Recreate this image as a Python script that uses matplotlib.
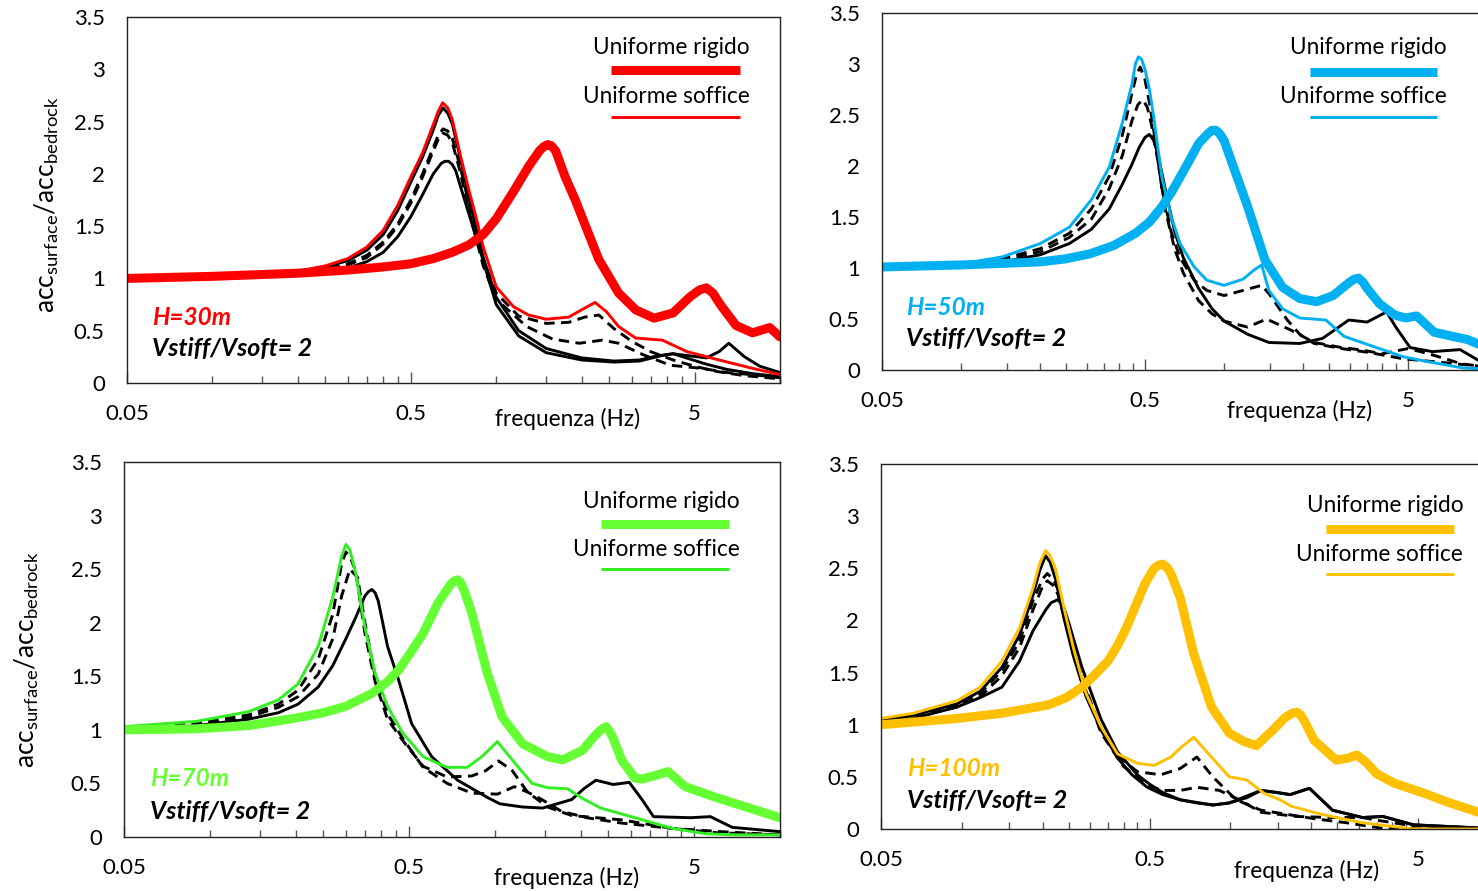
import matplotlib
matplotlib.use("Agg")
import matplotlib.pyplot as plt
from matplotlib.ticker import FixedLocator, NullFormatter

plt.rcParams['font.family'] = ['Lato', 'DejaVu Sans']
plt.rcParams['mathtext.fontset'] = 'custom'
plt.rcParams['mathtext.rm'] = 'Lato'

# ---------------- data ----------------
x_major = [0.05, 0.5, 5]
x_major_labels = ["0.05", "0.5", "5"]
y_ticks = [0, 0.5, 1, 1.5, 2, 2.5, 3, 3.5]
y_tick_labels = ["0", "0.5", "1", "1.5", "2", "2.5", "3", "3.5"]

# Panel 1 : H=30m
p1_rig_f = [0.05,0.1,0.2,0.3,0.4,0.5,0.6,0.7,0.8,0.9,1.0,1.15,1.3,1.42,1.47,1.52,1.56,1.62,1.75,1.9,2.1,2.3,2.7,3.1,3.6,4.2,4.8,5.2,5.5,5.8,6.2,7.0,8.0,9.2,10]
p1_rig_v = [1.0,1.02,1.05,1.08,1.11,1.14,1.19,1.25,1.32,1.42,1.57,1.83,2.07,2.22,2.26,2.28,2.27,2.22,1.97,1.75,1.45,1.18,0.86,0.70,0.62,0.67,0.82,0.89,0.91,0.86,0.74,0.55,0.48,0.53,0.44]
p1_soft_f = [0.05,0.1,0.15,0.2,0.25,0.3,0.35,0.4,0.45,0.5,0.55,0.6,0.625,0.648,0.675,0.7,0.75,0.8,0.85,0.9,1.0,1.15,1.3,1.5,1.8,2.0,2.23,2.45,2.7,3.1,3.85,4.7,6.1,8.0,10]
p1_soft_v = [1.0,1.02,1.04,1.07,1.12,1.19,1.3,1.46,1.70,1.97,2.2,2.47,2.60,2.68,2.63,2.52,2.16,1.85,1.58,1.30,0.92,0.73,0.65,0.61,0.63,0.70,0.77,0.68,0.54,0.43,0.41,0.30,0.22,0.14,0.08]
p1_k1_f = [0.05,0.1,0.15,0.2,0.25,0.3,0.35,0.4,0.45,0.5,0.55,0.6,0.625,0.65,0.675,0.7,0.75,0.8,0.9,1.0,1.2,1.5,2.0,2.6,3.2,3.7,4.2,4.8,5.5,6.1,6.6,7.5,8.5,10]
p1_k1_v = [1.0,1.02,1.04,1.06,1.11,1.17,1.27,1.42,1.65,1.92,2.16,2.42,2.56,2.63,2.58,2.48,2.13,1.78,1.2,0.82,0.50,0.33,0.24,0.21,0.22,0.26,0.28,0.26,0.24,0.30,0.38,0.25,0.16,0.10]
p1_k2_f = [0.05,0.1,0.15,0.2,0.25,0.3,0.35,0.4,0.45,0.5,0.55,0.6,0.625,0.65,0.675,0.7,0.75,0.8,0.9,1.0,1.2,1.5,1.8,2.05,2.3,2.6,3.0,3.5,4.2,5,6,7.5,10]
p1_k2_v = [1.0,1.02,1.03,1.05,1.09,1.14,1.22,1.35,1.52,1.75,2.0,2.25,2.37,2.43,2.41,2.34,2.05,1.72,1.18,0.86,0.64,0.57,0.58,0.63,0.65,0.52,0.40,0.30,0.22,0.16,0.11,0.07,0.04]
p1_k3_f = [0.05,0.1,0.15,0.2,0.25,0.3,0.35,0.4,0.45,0.5,0.55,0.6,0.625,0.65,0.675,0.7,0.75,0.8,0.9,1.0,1.28,1.58,1.96,2.37,2.7,3.3,4.1,5.3,6.5,8,10]
p1_k3_v = [1.0,1.02,1.03,1.05,1.08,1.13,1.2,1.33,1.5,1.72,1.97,2.22,2.33,2.39,2.37,2.30,2.0,1.66,1.12,0.80,0.54,0.42,0.38,0.41,0.38,0.27,0.17,0.14,0.10,0.08,0.05]
p1_k4_f = [0.05,0.1,0.15,0.2,0.25,0.3,0.35,0.4,0.45,0.5,0.55,0.6,0.64,0.66,0.68,0.7,0.72,0.78,0.87,1.0,1.2,1.5,2.0,2.6,3.2,3.8,4.2,4.8,5.5,6.5,8,10]
p1_k4_v = [1.0,1.02,1.03,1.04,1.07,1.10,1.16,1.25,1.40,1.59,1.80,2.0,2.1,2.12,2.12,2.09,2.03,1.72,1.30,0.75,0.45,0.29,0.22,0.20,0.21,0.26,0.28,0.23,0.18,0.13,0.09,0.06]

# Panel 2 : H=50m
p2_rig_f = [0.05,0.1,0.2,0.25,0.31,0.38,0.46,0.52,0.58,0.63,0.68,0.74,0.8,0.87,0.9,0.93,0.96,1.0,1.1,1.23,1.43,1.67,1.94,2.25,2.6,3.0,3.12,3.25,3.38,3.5,3.9,4.45,4.9,5.4,6.3,7.7,8.4,10]
p2_rig_v = [1.01,1.03,1.06,1.09,1.14,1.22,1.34,1.45,1.60,1.74,1.89,2.06,2.22,2.32,2.35,2.35,2.32,2.25,1.95,1.60,1.08,0.81,0.70,0.67,0.73,0.86,0.89,0.90,0.86,0.80,0.65,0.54,0.51,0.53,0.37,0.32,0.30,0.22]
p2_soft_f = [0.05,0.1,0.144,0.2,0.258,0.313,0.366,0.41,0.447,0.46,0.472,0.485,0.5,0.52,0.54,0.58,0.63,0.68,0.77,0.86,1.0,1.18,1.3,1.39,1.48,1.67,1.94,2.44,2.86,3.7,4.8,6.0,8.1,10]
p2_soft_v = [1.01,1.04,1.11,1.24,1.40,1.67,1.99,2.42,2.81,3.00,3.07,3.05,2.95,2.75,2.48,1.89,1.50,1.24,1.01,0.88,0.83,0.89,0.98,1.03,0.78,0.60,0.51,0.49,0.33,0.23,0.13,0.08,0.02,0.01]
p2_k1_f = [0.05,0.1,0.144,0.2,0.258,0.313,0.366,0.41,0.447,0.465,0.48,0.5,0.52,0.54,0.58,0.63,0.68,0.77,0.86,1.0,1.18,1.39,1.48,1.74,1.94,2.2,2.8,3.6,4.8,7,10]
p2_k1_v = [1.0,1.03,1.09,1.19,1.34,1.58,1.90,2.30,2.72,2.90,2.97,2.85,2.62,2.35,1.78,1.35,1.10,0.88,0.78,0.73,0.78,0.83,0.75,0.49,0.35,0.26,0.21,0.17,0.11,0.07,0.03]
p2_k2_f = [0.05,0.1,0.144,0.2,0.258,0.313,0.366,0.41,0.447,0.47,0.49,0.51,0.53,0.56,0.6,0.65,0.7,0.8,0.9,1.0,1.23,1.45,1.8,2.2,2.8,3.25,4.0,5.0,6.0,8,10]
p2_k2_v = [1.0,1.02,1.08,1.16,1.30,1.48,1.78,2.10,2.45,2.60,2.65,2.58,2.40,2.05,1.55,1.18,0.95,0.68,0.55,0.48,0.42,0.50,0.39,0.27,0.22,0.20,0.16,0.21,0.16,0.06,0.03]
p2_k3_f = [0.05,0.1,0.144,0.2,0.258,0.313,0.366,0.41,0.447,0.475,0.5,0.52,0.54,0.56,0.6,0.65,0.7,0.8,0.9,1.0,1.23,1.48,1.94,2.37,2.98,3.5,4.15,4.5,5.1,6.2,7.9,9.2,10]
p2_k3_v = [1.0,1.02,1.06,1.13,1.24,1.38,1.58,1.82,2.02,2.18,2.28,2.31,2.25,2.12,1.75,1.35,1.10,0.80,0.60,0.48,0.35,0.27,0.26,0.31,0.49,0.47,0.57,0.42,0.22,0.18,0.20,0.10,0.08]

# Panel 3 : H=70m
p3_rig_f = [0.05,0.09,0.137,0.2,0.25,0.3,0.37,0.42,0.46,0.5,0.56,0.63,0.7,0.72,0.74,0.76,0.78,0.83,0.94,1.06,1.25,1.53,1.73,2.03,2.25,2.35,2.45,2.52,2.6,2.78,3.1,3.27,3.6,4.05,4.65,5.8,7.0,10]
p3_rig_v = [1.0,1.01,1.04,1.11,1.16,1.22,1.34,1.45,1.56,1.70,1.90,2.18,2.36,2.39,2.40,2.37,2.30,2.09,1.53,1.12,0.87,0.75,0.72,0.81,0.95,1.00,1.03,0.99,0.92,0.72,0.55,0.54,0.57,0.61,0.47,0.38,0.31,0.18]
p3_soft_f = [0.05,0.09,0.137,0.174,0.204,0.24,0.27,0.29,0.30,0.31,0.325,0.35,0.38,0.42,0.475,0.56,0.68,0.8,0.9,1.02,1.15,1.35,1.53,1.8,2.03,2.35,3.1,4.2,5.5,7,10]
p3_soft_v = [1.03,1.08,1.17,1.28,1.43,1.78,2.24,2.62,2.73,2.68,2.46,1.96,1.53,1.22,0.97,0.75,0.65,0.65,0.75,0.89,0.72,0.50,0.46,0.45,0.36,0.27,0.18,0.08,0.03,0.02,0.02]
p3_k1_f = [0.05,0.09,0.137,0.174,0.204,0.24,0.27,0.29,0.30,0.31,0.325,0.35,0.38,0.42,0.475,0.56,0.68,0.83,0.93,1.03,1.15,1.3,1.53,1.86,2.78,4.2,6,10]
p3_k1_v = [1.02,1.06,1.14,1.24,1.37,1.66,2.08,2.55,2.66,2.62,2.48,1.90,1.45,1.10,0.90,0.66,0.56,0.57,0.62,0.71,0.62,0.42,0.28,0.20,0.16,0.08,0.04,0.02]
p3_k2_f = [0.05,0.09,0.137,0.174,0.204,0.24,0.27,0.29,0.31,0.33,0.35,0.38,0.42,0.475,0.56,0.68,0.83,1.02,1.17,1.3,1.46,1.71,2.1,2.78,4.2,6.2,10]
p3_k2_v = [1.01,1.05,1.12,1.21,1.31,1.52,1.85,2.25,2.50,2.42,2.0,1.50,1.15,0.92,0.65,0.50,0.41,0.40,0.47,0.42,0.35,0.24,0.18,0.13,0.08,0.05,0.02]
p3_k3_f = [0.05,0.09,0.137,0.174,0.204,0.24,0.27,0.3,0.325,0.35,0.36,0.37,0.38,0.39,0.42,0.46,0.51,0.6,0.74,0.94,1.04,1.25,1.47,1.86,2.05,2.26,2.6,2.96,3.3,3.6,4.85,5.7,6.8,10]
p3_k3_v = [1.0,1.04,1.10,1.16,1.24,1.40,1.60,1.85,2.05,2.25,2.29,2.31,2.28,2.20,1.78,1.46,1.06,0.75,0.53,0.37,0.31,0.28,0.27,0.35,0.45,0.53,0.49,0.51,0.34,0.19,0.18,0.19,0.09,0.05]

# Panel 4 : H=100m
p4_rig_f = [0.05,0.096,0.141,0.21,0.245,0.28,0.31,0.35,0.38,0.41,0.48,0.52,0.54,0.56,0.58,0.6,0.65,0.73,0.85,0.99,1.12,1.25,1.44,1.6,1.7,1.77,1.83,1.9,2.05,2.48,2.75,2.95,3.2,3.5,4.07,5.3,6.4,8.4,10]
p4_rig_v = [1.0,1.06,1.11,1.19,1.26,1.36,1.47,1.61,1.76,1.93,2.35,2.50,2.53,2.54,2.51,2.45,2.22,1.68,1.17,0.92,0.84,0.80,0.95,1.07,1.11,1.12,1.09,1.02,0.85,0.66,0.68,0.71,0.64,0.53,0.44,0.34,0.26,0.16,0.12]
p4_soft_f = [0.05,0.066,0.096,0.117,0.141,0.164,0.184,0.195,0.205,0.213,0.223,0.24,0.26,0.29,0.33,0.38,0.45,0.52,0.6,0.66,0.73,0.85,0.99,1.15,1.34,1.53,1.68,2.04,2.28,3.1,4.8,10]
p4_soft_v = [1.06,1.11,1.23,1.36,1.61,1.93,2.31,2.55,2.67,2.62,2.50,2.12,1.74,1.30,0.98,0.72,0.63,0.61,0.69,0.79,0.88,0.69,0.50,0.47,0.34,0.28,0.22,0.16,0.13,0.06,0.0,0.0]
p4_k1_f = [0.05,0.066,0.096,0.117,0.141,0.164,0.184,0.195,0.205,0.213,0.223,0.24,0.26,0.29,0.33,0.38,0.43,0.49,0.56,0.65,0.86,0.99,1.15,1.3,1.5,1.67,1.97,2.4,3.1,3.7,4.8,8.4,10]
p4_k1_v = [1.04,1.09,1.20,1.32,1.55,1.86,2.24,2.48,2.62,2.56,2.40,2.02,1.66,1.27,0.95,0.68,0.52,0.40,0.33,0.28,0.23,0.25,0.30,0.37,0.35,0.33,0.39,0.18,0.11,0.12,0.04,0.01,0.01]
p4_k2_f = [0.05,0.066,0.096,0.117,0.141,0.164,0.184,0.2,0.208,0.218,0.228,0.25,0.28,0.33,0.38,0.45,0.55,0.65,0.75,0.86,1.05,1.3,2.04,2.7,3.6,5,10]
p4_k2_v = [1.04,1.08,1.19,1.30,1.52,1.80,2.19,2.40,2.45,2.40,2.30,1.90,1.45,0.95,0.70,0.55,0.52,0.58,0.69,0.50,0.28,0.18,0.10,0.06,0.01,0.0,0.0]
p4_k3_f = [0.05,0.066,0.096,0.117,0.141,0.164,0.184,0.2,0.208,0.218,0.228,0.25,0.28,0.33,0.4,0.49,0.56,0.65,0.75,0.91,1.08,1.3,1.77,2.4,3.1,3.6,4.8,10]
p4_k3_v = [1.03,1.07,1.17,1.27,1.47,1.74,2.10,2.33,2.38,2.34,2.25,1.88,1.43,0.92,0.60,0.42,0.37,0.37,0.40,0.37,0.28,0.16,0.12,0.11,0.11,0.08,0.03,0.0]
p4_k4_f = [0.05,0.066,0.096,0.117,0.141,0.164,0.184,0.205,0.215,0.228,0.24,0.25,0.28,0.33,0.38,0.45,0.5,0.56,0.65,0.75,0.86,0.99,1.3,1.67,1.97,2.4,3.1,3.7,4.8,8.4,10]
p4_k4_v = [1.03,1.06,1.17,1.26,1.36,1.61,1.90,2.10,2.17,2.20,2.12,1.98,1.55,1.05,0.74,0.52,0.43,0.35,0.28,0.25,0.23,0.25,0.37,0.33,0.39,0.18,0.11,0.12,0.04,0.01,0.01]

panel_titles = ["H=30m", "H=50m", "H=70m", "H=100m"]
ratio_text = "Vstiff/Vsoft= 2"
legend_rigid = "Uniforme rigido"
legend_soft = "Uniforme soffice"
colors = ["#FF0000", "#00B0F0", "#66FF33", "#FFC000"]
soft_colors = ["#FF0000", "#00B0F0", "#33EE22", "#FFC000"]

panels = [
    dict(rig=(p1_rig_f, p1_rig_v), soft=(p1_soft_f, p1_soft_v),
         black=[(p1_k1_f, p1_k1_v, '-'), (p1_k2_f, p1_k2_v, '--'),
                (p1_k3_f, p1_k3_v, '--'), (p1_k4_f, p1_k4_v, '-')]),
    dict(rig=(p2_rig_f, p2_rig_v), soft=(p2_soft_f, p2_soft_v),
         black=[(p2_k1_f, p2_k1_v, '--'), (p2_k2_f, p2_k2_v, '--'),
                (p2_k3_f, p2_k3_v, '-')]),
    dict(rig=(p3_rig_f, p3_rig_v), soft=(p3_soft_f, p3_soft_v),
         black=[(p3_k1_f, p3_k1_v, '--'), (p3_k2_f, p3_k2_v, '--'),
                (p3_k3_f, p3_k3_v, '-')]),
    dict(rig=(p4_rig_f, p4_rig_v), soft=(p4_soft_f, p4_soft_v),
         black=[(p4_k1_f, p4_k1_v, '-'), (p4_k2_f, p4_k2_v, '--'),
                (p4_k3_f, p4_k3_v, '--'), (p4_k4_f, p4_k4_v, '-')]),
]

# ---------------- layout (pixels -> figure fractions) ----------------
W, H = 1478, 891
boxes = [(127, 780, 17, 383), (882, 1487, 13, 370),
         (124, 780, 462, 837), (881, 1499, 464, 829)]
leg = [(0.953, 0.918, 0.741, 0.939, 0.855, 0.784, 0.727),
       (0.934, 0.902, 0.707, 0.917, 0.835, 0.7675, 0.709),
       (0.939, 0.896, 0.727, 0.922, 0.835, 0.768, 0.715),
       (0.942, 0.885, 0.720, 0.927, 0.822, 0.753, 0.699)]
ann = [(0.038, 0.180, 0.093), (0.040, 0.176, 0.087),
       (0.040, 0.155, 0.069), (0.042, 0.167, 0.079)]
xlab = [(0.675, -0.098), (0.691, -0.115), (0.674, -0.109), (0.689, -0.115)]
ylab = {0: (-0.1225, 0.486), 2: (-0.148, 0.472)}

THICK = 6.5
THIN = 2.1
DASH = (0, (3.6, 2.2))

fig = plt.figure(figsize=(W / 100, H / 100), dpi=100)
minor = [k * b for b in (0.05, 0.5, 5) for k in range(2, 10)] + [10]

for i, p in enumerate(panels):
    l, r, t, b = boxes[i]
    ax = fig.add_axes([l / W, 1 - b / H, (r - l) / W, (b - t) / H])
    ax.set_xscale('log')
    ax.set_xlim(0.05, 10)
    ax.set_ylim(0, 3.5)

    for f, v, ls in p['black']:
        if ls == '-':
            ax.plot(f, v, color='black', lw=THIN, solid_joinstyle='round')
        else:
            ax.plot(f, v, color='black', lw=THIN, linestyle=DASH)
    ax.plot(*p['soft'], color=soft_colors[i], lw=THIN, solid_joinstyle='round')
    ax.plot(*p['rig'], color=colors[i], lw=THICK, solid_joinstyle='round',
            solid_capstyle='round')

    ax.xaxis.set_major_locator(FixedLocator(x_major))
    ax.set_xticklabels(x_major_labels)
    ax.xaxis.set_minor_locator(FixedLocator(minor))
    ax.xaxis.set_minor_formatter(NullFormatter())
    ax.set_yticks(y_ticks)
    ax.set_yticklabels(y_tick_labels)
    ax.tick_params(axis='x', which='major', direction='in', length=8, width=1,
                   color='#555555', labelsize=16, pad=15)
    ax.tick_params(axis='x', which='minor', direction='in', length=5, width=1,
                   color='#555555')
    ax.tick_params(axis='y', length=0, labelsize=16, pad=16)
    for s in ax.spines.values():
        s.set_linewidth(1.0)
        s.set_color('#222222')

    tx, ty1, lx0, lx1, ly1, ty2, ly2 = leg[i]
    ax.text(tx, ty1, legend_rigid, transform=ax.transAxes, ha='right',
            va='center', fontsize=16.3)
    ax.plot([lx0, lx1], [ly1, ly1], transform=ax.transAxes, color=colors[i],
            lw=THICK, solid_capstyle='butt')
    ax.text(tx, ty2, legend_soft, transform=ax.transAxes, ha='right',
            va='center', fontsize=16.3)
    ax.plot([lx0, lx1], [ly2, ly2], transform=ax.transAxes,
            color=soft_colors[i], lw=THIN, solid_capstyle='butt')

    ax0, ay1, ay2 = ann[i]
    ax.text(ax0, ay1, panel_titles[i], transform=ax.transAxes, ha='left',
            va='center', fontsize=17.5, fontweight='bold', fontstyle='italic',
            color=colors[i])
    ax.text(ax0, ay2, ratio_text, transform=ax.transAxes, ha='left',
            va='center', fontsize=18, fontweight='bold', fontstyle='italic',
            color='black')

    ax.text(xlab[i][0], xlab[i][1], "frequenza (Hz)", transform=ax.transAxes,
            ha='center', va='center', fontsize=16.3)
    if i in ylab:
        ax.text(ylab[i][0], ylab[i][1],
                r'acc$_{\mathregular{surface}}$/acc$_{\mathregular{bedrock}}$',
                transform=ax.transAxes, rotation=90, ha='center', va='center',
                fontsize=19)

fig.savefig("out.png", dpi=100)
